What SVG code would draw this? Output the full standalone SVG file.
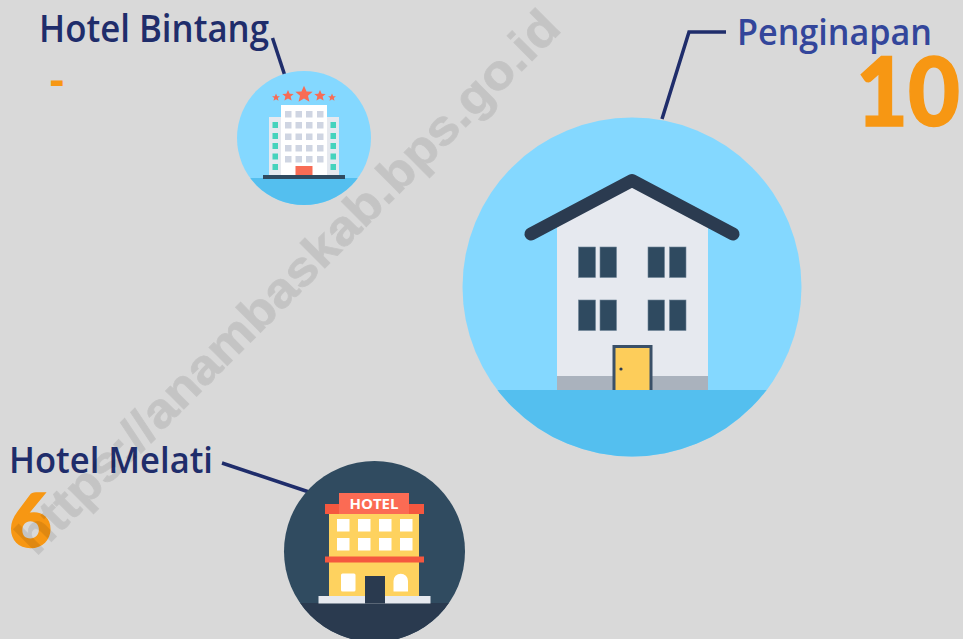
<svg xmlns="http://www.w3.org/2000/svg" width="963" height="639" viewBox="0 0 963 639">
<style>
.lbl{font-family:"Open Sans","Noto Sans",sans-serif;font-size:36px;font-weight:600}
.navy{fill:#1f2d6b}
.num{font-family:"Lato","Roboto",sans-serif;font-weight:900;fill:#f79713;stroke:#f79713;stroke-width:1.500}
.conn{fill:none;stroke:#1f2d6b;stroke-width:3.500}
.win{fill:#2f4a60;stroke:#6f8496;stroke-width:.6}
.w2{fill:#cfd5e2}
.w3{fill:#46d3bd}
.w4{fill:#fff}
.star{fill:#f86c55}
</style>
<defs>
<clipPath id="c1"><circle cx="304" cy="138" r="67"/></clipPath>
<clipPath id="c2"><circle cx="632" cy="287" r="169.500"/></clipPath>
<clipPath id="c3"><circle cx="374.500" cy="551.500" r="90.500"/></clipPath>
<path id="s" d="M0-10 2.900-3.400 9.800-3.100 4.500 1.400 6.200 8.300 0 4.600-6.200 8.300-4.500 1.400-9.800-3.100-2.900-3.400Z"/>
</defs>
<rect width="963" height="639" fill="#d9d9d9"/>
<g id="connectors">
<path class="conn" d="M272.500 38 285 76"/>
<path class="conn" d="M726 32H689L662 119"/>
<path class="conn" d="M222 463 309 492"/>
</g>
<g id="hotel-bintang">
<circle cx="304" cy="138" r="67" fill="#84d8ff"/>
<g clip-path="url(#c1)"><rect x="237" y="178" width="134" height="30" fill="#54bfef"/></g>
<rect x="269" y="117" width="70" height="59" fill="#e6e9ef"/>
<rect x="281" y="105" width="46" height="71" fill="#fff"/>
<g class="w2">
<rect x="285" y="111" width="6.500" height="6.500"/><rect x="295.500" y="111" width="6.500" height="6.500"/><rect x="306" y="111" width="6.500" height="6.500"/><rect x="317" y="111" width="6.500" height="6.500"/>
<rect x="285" y="122" width="6.500" height="6.500"/><rect x="295.500" y="122" width="6.500" height="6.500"/><rect x="306" y="122" width="6.500" height="6.500"/><rect x="317" y="122" width="6.500" height="6.500"/>
<rect x="285" y="133.500" width="6.500" height="6.500"/><rect x="295.500" y="133.500" width="6.500" height="6.500"/><rect x="306" y="133.500" width="6.500" height="6.500"/><rect x="317" y="133.500" width="6.500" height="6.500"/>
<rect x="285" y="145" width="6.500" height="6.500"/><rect x="295.500" y="145" width="6.500" height="6.500"/><rect x="306" y="145" width="6.500" height="6.500"/><rect x="317" y="145" width="6.500" height="6.500"/>
<rect x="285" y="156" width="6.500" height="6.500"/><rect x="295.500" y="156" width="6.500" height="6.500"/><rect x="306" y="156" width="6.500" height="6.500"/><rect x="317" y="156" width="6.500" height="6.500"/>
</g>
<g class="w3">
<rect x="272.500" y="122" width="5.500" height="6"/><rect x="272.500" y="133" width="5.500" height="6"/><rect x="272.500" y="143" width="5.500" height="6"/><rect x="272.500" y="153.500" width="5.500" height="6"/><rect x="272.500" y="164" width="5.500" height="6"/>
<rect x="330.500" y="122" width="5.500" height="6"/><rect x="330.500" y="133" width="5.500" height="6"/><rect x="330.500" y="143" width="5.500" height="6"/><rect x="330.500" y="153.500" width="5.500" height="6"/><rect x="330.500" y="164" width="5.500" height="6"/>
</g>
<rect x="295.500" y="166" width="17" height="9" fill="#f86c55"/>
<rect x="263" y="175" width="82" height="4" fill="#2f4a60"/>
<use href="#s" class="star" transform="translate(276 97.500) scale(.4)"/>
<use href="#s" class="star" transform="translate(288 95.800) scale(.58)"/>
<use href="#s" class="star" transform="translate(304 94.500) scale(.88)"/>
<use href="#s" class="star" transform="translate(320 95.800) scale(.58)"/>
<use href="#s" class="star" transform="translate(332 97.500) scale(.4)"/>
</g>
<g id="penginapan">
<circle cx="632" cy="287" r="169.500" fill="#84d8ff"/>
<g clip-path="url(#c2)"><rect x="460" y="390" width="344" height="70" fill="#54bfef"/></g>
<path d="M557 390V222L632 182 708 222V390Z" fill="#e6e9ef"/>
<rect x="557" y="376" width="151" height="14" fill="#aab2bd"/>
<path d="M531 234 632 180.500 733 234" fill="none" stroke="#2b3b50" stroke-width="13" stroke-linecap="round" stroke-linejoin="round"/>
<g class="win">
<rect x="578.500" y="247" width="17" height="30.500"/><rect x="600" y="247" width="16.500" height="30.500"/><rect x="648" y="247" width="16.500" height="30.500"/><rect x="669.500" y="247" width="16.500" height="30.500"/>
<rect x="578.500" y="300" width="17" height="30.500"/><rect x="600" y="300" width="16.500" height="30.500"/><rect x="648" y="300" width="16.500" height="30.500"/><rect x="669.500" y="300" width="16.500" height="30.500"/>
</g>
<path d="M612.500 390V345H652.500V390Z" fill="#3a5068"/>
<rect x="615.500" y="348" width="34" height="42" fill="#fdcd5a"/>
<circle cx="621" cy="369" r="1.600" fill="#2b3b50"/>
</g>
<g id="hotel-melati">
<circle cx="374.500" cy="551.500" r="90.500" fill="#304b60"/>
<g clip-path="url(#c3)"><rect x="280" y="603" width="190" height="40" fill="#2a3a4f"/></g>
<rect x="329" y="510" width="90" height="92" fill="#fed25f"/>
<rect x="325" y="504" width="99" height="10" fill="#f5573f"/>
<rect x="339" y="493" width="70" height="21" fill="#fb6b54"/>
<text x="374" y="509" text-anchor="middle" font-family="Open Sans,sans-serif" font-weight="700" font-size="15" fill="#fff">HOTEL</text>
<g class="w4">
<rect x="337" y="519" width="12.500" height="12.500"/><rect x="358" y="519" width="12.500" height="12.500"/><rect x="379" y="519" width="12.500" height="12.500"/><rect x="400" y="519" width="12.500" height="12.500"/>
<rect x="337" y="538" width="12.500" height="12.500"/><rect x="358" y="538" width="12.500" height="12.500"/><rect x="379" y="538" width="12.500" height="12.500"/><rect x="400" y="538" width="12.500" height="12.500"/>
<rect x="341" y="573.500" width="14.500" height="18" rx="1.500"/>
<path d="M393.500 591.500V581a7.200 7.200 0 0 1 14.500 0V591.500Z"/>
</g>
<rect x="325" y="556.500" width="99" height="6" fill="#f5573f"/>
<rect x="318.500" y="596" width="112" height="7.500" fill="#e6e9ef"/>
<rect x="365" y="576" width="20" height="27.500" fill="#2a3a4f"/>
</g>
<g id="label-hotel-bintang">
<text class="lbl navy" x="39" y="42" style="font-size:37px" textLength="230" lengthAdjust="spacingAndGlyphs">Hotel Bintang</text>
<text x="57" y="95" text-anchor="middle" font-family="Liberation Sans,sans-serif" font-weight="700" font-size="46" fill="#f79713">-</text>
</g>
<g id="label-penginapan">
<text class="lbl" x="737" y="45" fill="#33469b" textLength="195" lengthAdjust="spacingAndGlyphs">Penginapan</text>
<text class="num" x="856" y="126" font-size="96" textLength="104" lengthAdjust="spacingAndGlyphs">10</text>
</g>
<g id="label-hotel-melati">
<text class="lbl navy" x="9" y="473" textLength="204" lengthAdjust="spacingAndGlyphs">Hotel Melati</text>
<text class="num" x="9" y="547" font-size="74">6</text>
</g>
<text id="watermark" transform="translate(36 557) rotate(-45)" font-family="Liberation Sans,sans-serif" font-weight="700" font-size="49" fill="#000" stroke="#000" stroke-width=".8" opacity=".09" textLength="745" lengthAdjust="spacingAndGlyphs">https://anambaskab.bps.go.id</text>
</svg>
